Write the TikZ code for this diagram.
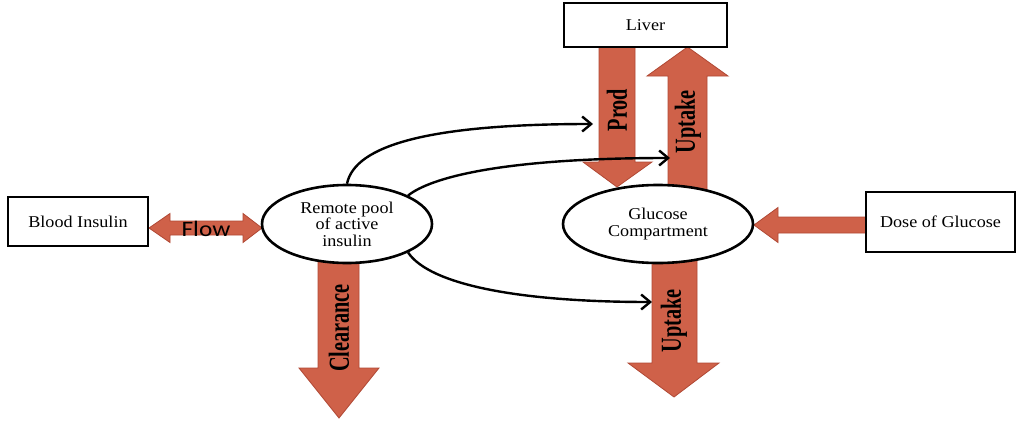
\documentclass[tikz,border=0pt]{standalone}
\usepackage{fontspec}
\setmainfont{Liberation Serif}[FakeStretch=1.1]
\newfontfamily\fatfont{Liberation Serif}[FakeStretch=0.7]
\newfontfamily\flowfont{Carlito}[FakeStretch=1.15]
\usetikzlibrary{shapes.geometric,arrows.meta}
\definecolor{fatred}{RGB}{207,97,73}
\definecolor{fatedge}{RGB}{176,72,52}
\tikzset{
  box/.style={draw, fill=white, line width=2.6pt, inner sep=0pt, font=\fontsize{16.5}{17}\selectfont},
  pool/.style={ellipse, draw, fill=white, line width=2.6pt, inner sep=0pt, align=center, font=\fontsize{16.5}{16.5}\selectfont},
  fat/.style={fill=fatred, draw=fatedge, line width=0.8pt},
  fatlabel/.style={rotate=90, inner sep=0pt, font=\fatfont\bfseries\fontsize{29}{29}\selectfont},
  link/.style={line width=2.4pt, -{Straight Barb[length=9pt,width=15pt,line width=2.4pt]}}
}

\begin{document}
\begin{tikzpicture}[x=1pt,y=-1pt]
\useasboundingbox (0,0) rectangle (1017,423);
% block arrows
\draw[fat] (149,228) -- (170,213.5) -- (170,221) -- (243,221) -- (243,213.5) -- (262,228) -- (243,242.5) -- (243,235) -- (170,235) -- (170,242.5) -- cycle;
\draw[fat] (599,45) -- (635,45) -- (635,162) -- (652,162) -- (617,187) -- (583,162) -- (599,162) -- cycle;
\draw[fat] (668,190) -- (707,190) -- (707,76) -- (728,76) -- (687.5,47) -- (647,76) -- (668,76) -- cycle;
\draw[fat] (318,258) -- (359,258) -- (359,368) -- (379,368) -- (339,418) -- (299,368) -- (318,368) -- cycle;
\draw[fat] (652,258) -- (697,258) -- (697,363) -- (719,363) -- (674,397) -- (628,363) -- (652,363) -- cycle;
\draw[fat] (868,217) -- (778,217) -- (778,207.5) -- (754,225) -- (778,242.5) -- (778,233) -- (868,233) -- cycle;
% compartments
\node[box, minimum width=140pt, minimum height=49pt] (blood) at (78,221.5) {Blood Insulin};
\node[box, minimum width=163pt, minimum height=44pt] (liver) at (645.5,25) {Liver};
\node[box, minimum width=149pt, minimum height=60pt] (dose) at (940.5,222) {Dose of Glucose};
\node[pool, minimum width=170pt, minimum height=78pt] (remote) at (347,224) {Remote pool\\of active\\insulin};
\node[pool, minimum width=190pt, minimum height=78pt] (gluc) at (658,224) {Glucose\\Compartment};
% labels on the block arrows
\node[font=\flowfont\fontsize{22}{22}\selectfont, inner sep=0pt] (flow) at (206,229) {Flow};
\node[fatlabel] (prod) at (617,110) {Prod};
\node[fatlabel] (upliver) at (688,122) {Uptake};
\node[fatlabel] (clear) at (339,328) {Clearance};
\node[fatlabel] (upout) at (674,321) {Uptake};
% insulin action
\coordinate (prodin) at (593,124);
\coordinate (upin) at (670,158);
\coordinate (outin) at (652,302);
\draw[link] (remote.north) .. controls (355,145) and (430,124) .. (prodin);
\draw[link] (remote.25) .. controls (430,178) and (500,158) .. (upin);
\draw[link] (remote.-25) .. controls (430,285) and (520,302) .. (outin);
\end{tikzpicture}
\end{document}
